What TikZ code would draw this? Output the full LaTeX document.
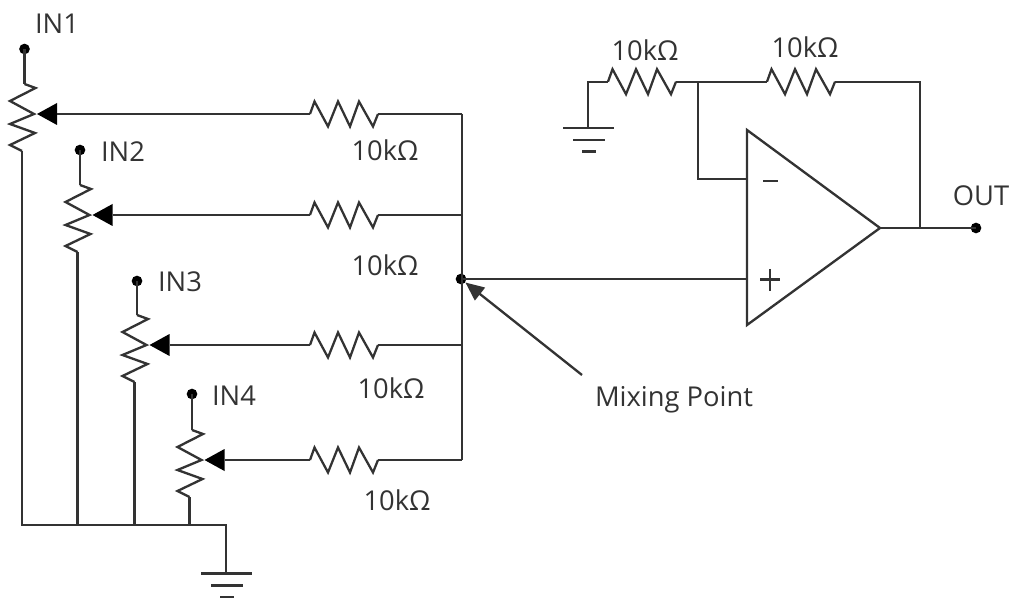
\documentclass[tikz,border=0pt]{standalone}
\usepackage{fontspec}
\setmainfont{Open Sans}
\usetikzlibrary{arrows.meta}
\definecolor{ink}{HTML}{333333}
\tikzset{
  x=0.75pt,y=-0.75pt,
  wire/.style={draw=ink,line width=1.75pt,line join=miter},
  thin wire/.style={draw=ink,line width=1.7pt},
  dotnode/.style={circle,fill=black,inner sep=0pt,minimum size=8pt},
  lab/.style={inner sep=0pt,text=ink,font=\fontsize{20.5pt}{24pt}\selectfont},
  res/.pic={
    \draw[thin wire] (0,0) -- (4.5,-12.5) -- (18,12.5) -- (28,-12.5) -- (40,12.5) -- (49,-12.5) -- (63,12.5) -- (68,0);
    \coordinate (-in) at (0,0);
    \coordinate (-out) at (68,0);
  },
  pot/.pic={
    \draw[wire] (0,0) -- (11,4) -- (-14.5,17) -- (9.5,30) -- (-14.5,40) -- (10.5,49) -- (-14.5,61) -- (-2.5,67);
    \fill[black] (12.5,30) -- (32.5,19) -- (32.5,41) -- cycle;
    \coordinate (-top) at (0,0);
    \coordinate (-bot) at (-2.5,67);
    \coordinate (-wiper) at (32.5,30);
  },
  gnd/.pic={
    \draw[thin wire] (-25,0) -- (26,0);
    \draw[thin wire] (-15,12) -- (17,12);
    \draw[thin wire] (-6,23.5) -- (8,23.5);
  }
}
\begin{document}
\begin{tikzpicture}
\useasboundingbox (0,0) rectangle (1012,598);
% input pots
\node[dotnode] (d1) at (24.5,49) {};
\node[dotnode] (d2) at (80,150) {};
\node[dotnode] (d3) at (137,281) {};
\node[dotnode] (d4) at (192,394) {};
\pic (p1) at (24.5,84) {pot};
\pic (p2) at (80,185) {pot};
\pic (p3) at (137,315) {pot};
\pic (p4) at (192,430) {pot};
\pic (r1) at (310,114) {res};
\pic (r2) at (310,215) {res};
\pic (r3) at (310,345) {res};
\pic (r4) at (310,460) {res};
\coordinate (b1) at (462,114);
\coordinate (b2) at (462,215);
\coordinate (b3) at (462,345);
\coordinate (b4) at (462,460);
\node[dotnode] (mix) at (461,279) {};
\foreach \i in {1,2,3,4}{
  \draw[wire] (d\i.center) -- (p\i-top);
  \draw[wire] (p\i-wiper) -- (r\i-in);
  \draw[wire] (r\i-out) -- (b\i);
}
\draw[wire] (b1) -- (b4);
% common return and ground
\coordinate (c4) at (p4-bot |- 0,525);
\coordinate (gt) at (226,525);
\coordinate (g1) at (226,573.5);
\draw[wire] (p1-bot) |- (gt) -- (g1);
\draw[wire] (p2-bot) -- (p2-bot |- gt);
\draw[wire] (p3-bot) -- (p3-bot |- gt);
\draw[wire] (p4-bot) -- (c4);
\pic at (g1) {gnd};
% op amp
\coordinate (ia) at (747,130);
\coordinate (ib) at (747,325);
\coordinate (oa) at (880,228);
\draw[wire,line join=miter] (ia) -- (oa) -- (ib) -- cycle;
\coordinate (inm) at (747,179);
\coordinate (inp) at (747,279);
\node[dotnode] (out) at (976,228) {};
\draw[wire] (mix.center) -- (inp);
\draw[wire] (oa) -- (out.center);
\draw[draw=ink,line width=1.3pt] (763,181) -- (778,181);
\draw[draw=ink,line width=1.6pt] (760,279.5) -- (780,279.5) (770,269) -- (770,291);
% feedback
\pic (rg) at (608,81.7) {res};
\pic (rf) at (767,81.7) {res};
\coordinate (jn) at (698,81.7);
\coordinate (fb) at (920,81.7);
\coordinate (fo) at (920,228);
\coordinate (g2) at (588,128);
\draw[wire] (g2) |- (rg-in);
\draw[wire] (rg-out) -- (jn) -- (rf-in);
\draw[wire] (rf-out) -- (fb) -- (fo);
\draw[wire] (jn) |- (inm);
\pic at (g2) {gnd};
% mixing point arrow
\coordinate (marr) at (582,375);
\draw[wire,-{Triangle[length=14pt,width=12pt]}] (marr) -- (mix);
% labels
\node[lab] (l1) at (57,24) {IN1};
\node[lab] (l2) at (123,152) {IN2};
\node[lab] (l3) at (180,282) {IN3};
\node[lab] (l4) at (234,396) {IN4};
\node[lab] (k1) at (385,150) {10kΩ};
\node[lab] (k2) at (385,265) {10kΩ};
\node[lab] (k3) at (391,388) {10kΩ};
\node[lab] (k4) at (397,500) {10kΩ};
\node[lab] (k5) at (645,50) {10kΩ};
\node[lab] (k6) at (805,47) {10kΩ};
\node[lab] (lo) at (981,196) {OUT};
\node[lab] (lm) at (674,400) {Mixing Point};
\end{tikzpicture}
\end{document}
